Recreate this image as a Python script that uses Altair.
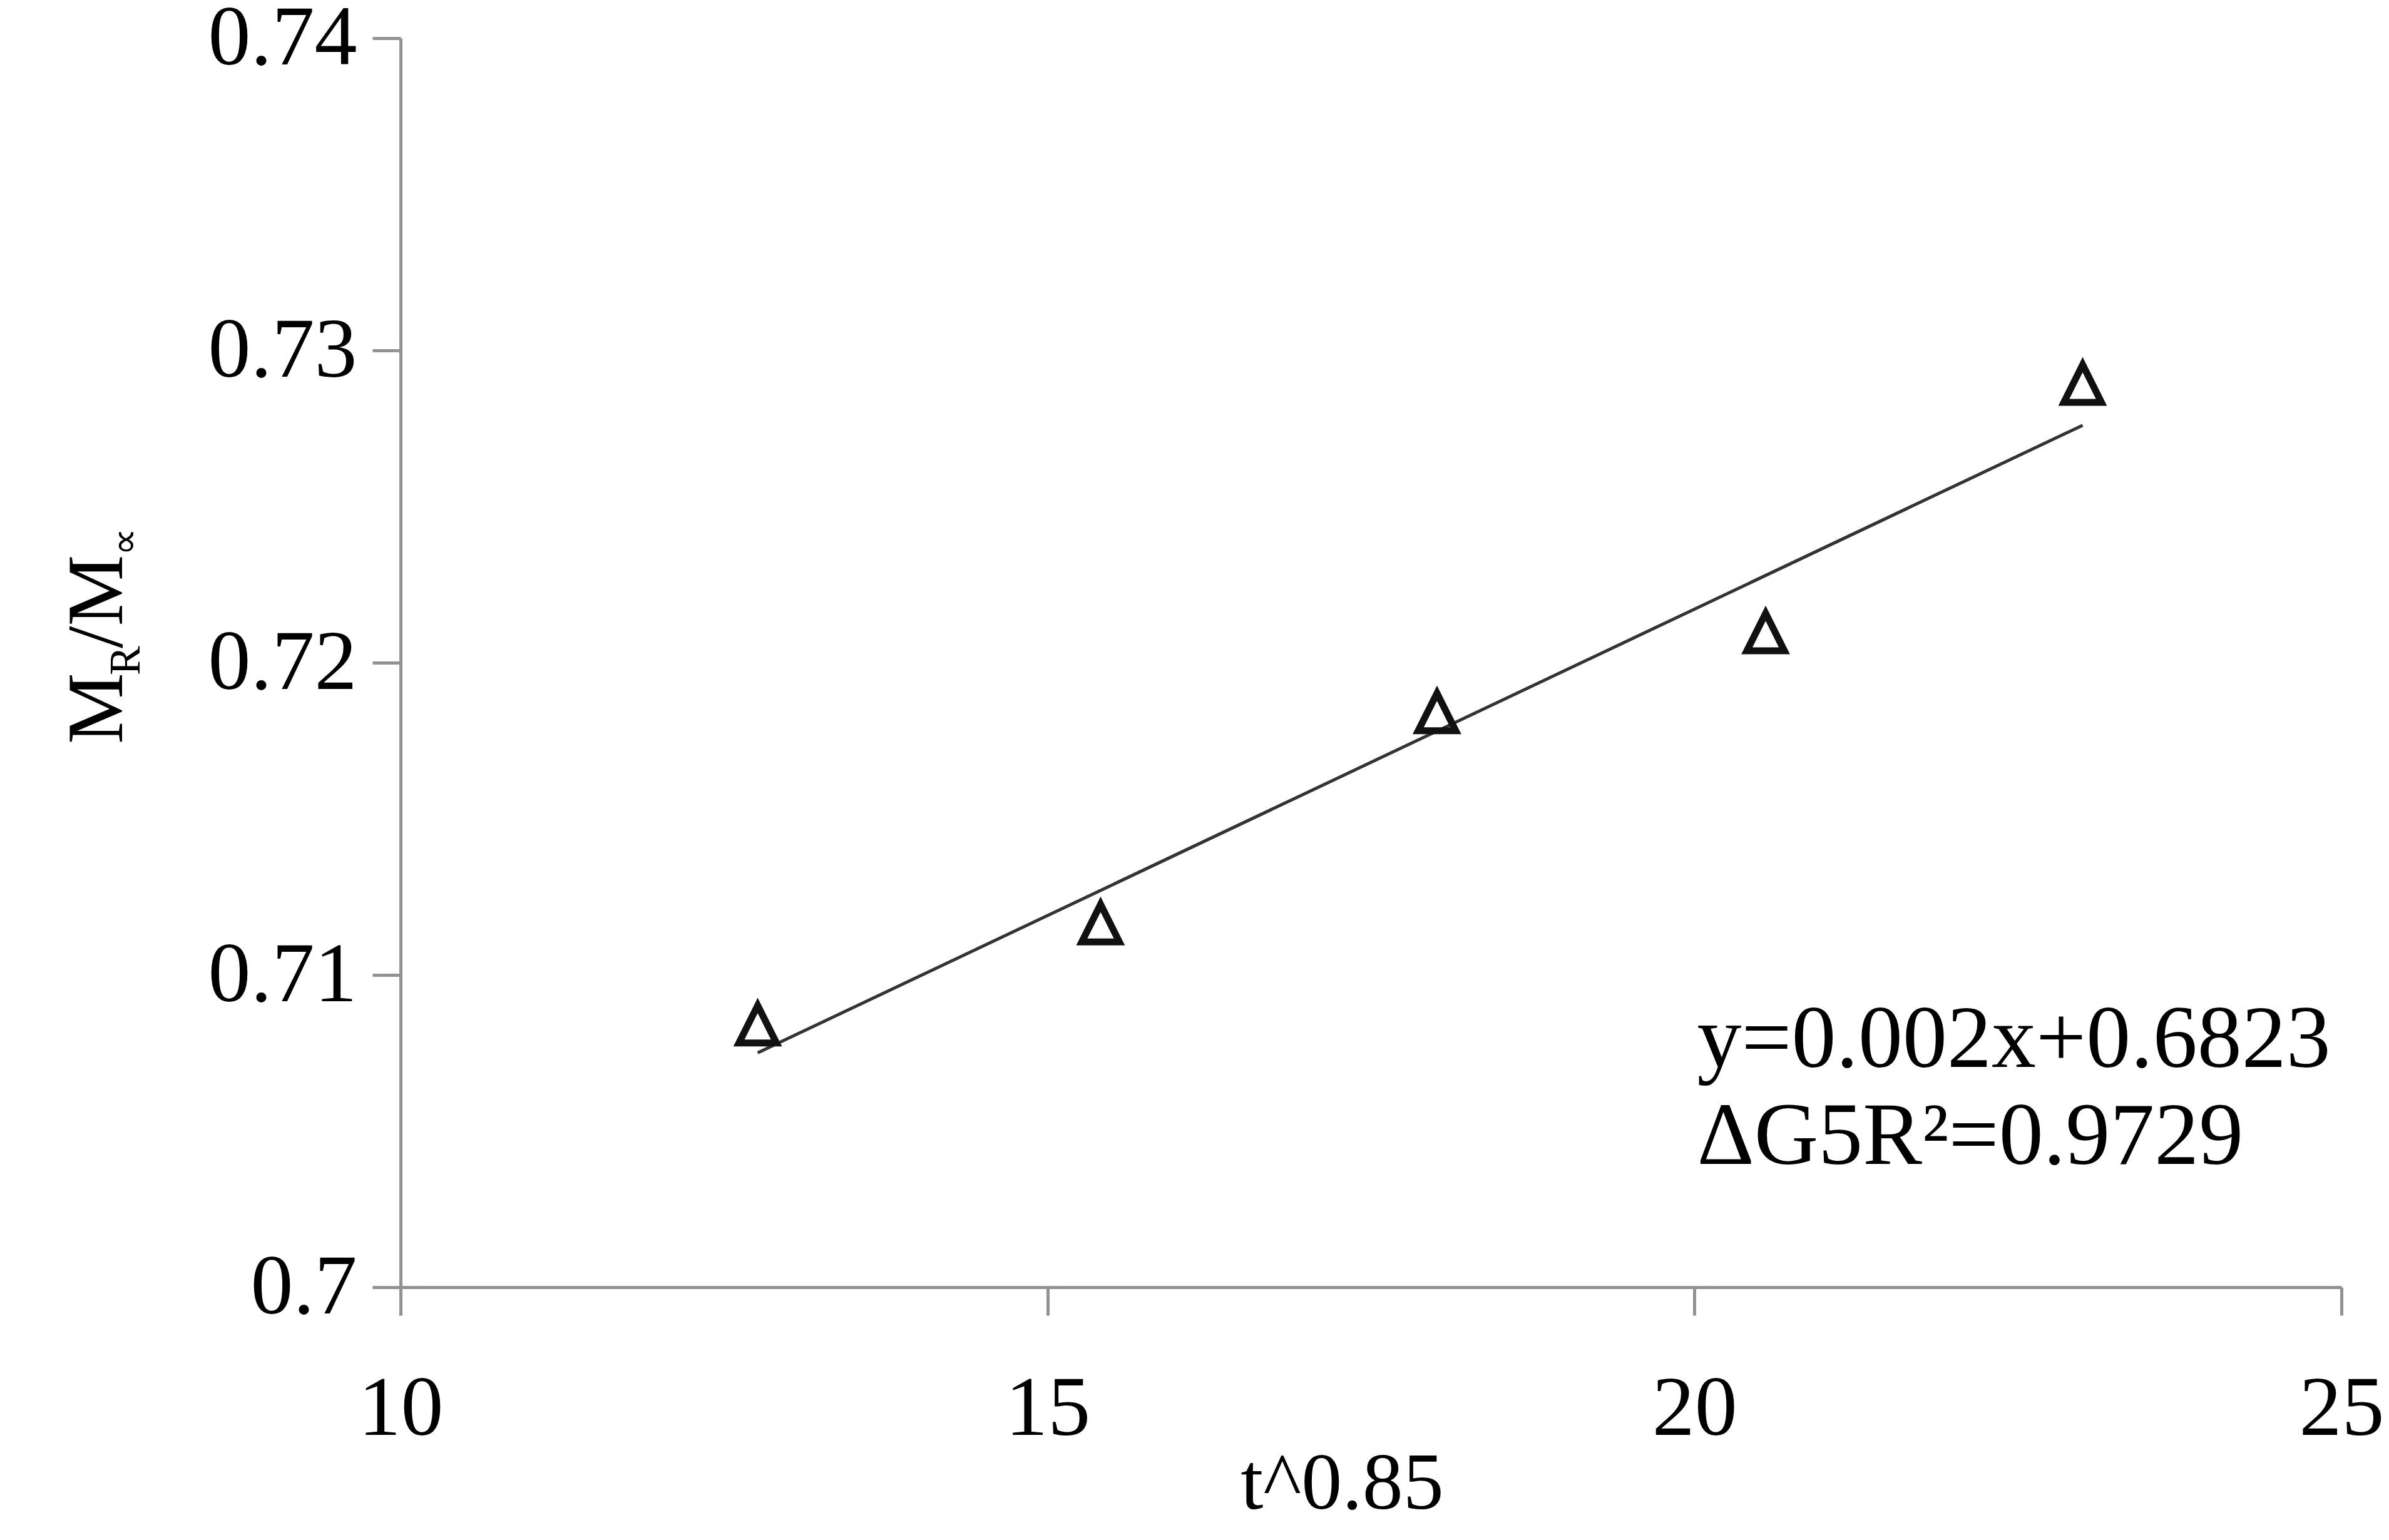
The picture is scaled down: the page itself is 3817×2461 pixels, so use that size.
import altair as alt
import pandas as pd

# ---- data ----
x_vals = [12.76, 15.41, 18.01, 20.55, 23.00]
y_vals = [0.70842, 0.71166, 0.71842, 0.72098, 0.72894]
x_ticks = [10, 15, 20, 25]
y_ticks = [0.70, 0.71, 0.72, 0.73, 0.74]
ann_text = ["y=0.002x+0.6823", "ΔG5R²=0.9729"]
ann_x = [20.02, 20.02]
ann_y = [0.70705, 0.70395]
x_title = "t^0.85"
y_title_parts = ["M", "R", "/M", "∝"]

FONT = "Liberation Serif"
AXIS_COLOR = "#8f9296"
W, H = 3101, 1996

df = pd.DataFrame({"x": x_vals, "y": y_vals})
ann_df = pd.DataFrame({"x": ann_x, "y": ann_y, "t": ann_text})

xs = alt.Scale(domain=[10, 25], nice=False, zero=False)
ys = alt.Scale(domain=[0.70, 0.74], nice=False, zero=False)

x_axis = alt.Axis(
    values=x_ticks, format="d", title=x_title,
    titleFont=FONT, titleFontSize=130, titleFontWeight="normal", titleColor="black",
    titleX=1504, titleY=353, titleAlign="center", titleBaseline="alphabetic",
    labelPadding=83, labelFlush=False, labelOverlap=False, labelBound=False,
    labelLimit=1000,
)
y_axis = alt.Axis(
    values=y_ticks, format=".2~f", title="",
    labelPadding=25, labelFlush=False, labelOverlap=False, labelBound=False,
    labelBaseline="middle", labelLimit=1000,
)

line = alt.Chart(df).transform_regression("x", "y").mark_line(
    color="#333333", strokeWidth=5
).encode(
    x=alt.X("x:Q", scale=xs, axis=x_axis),
    y=alt.Y("y:Q", scale=ys, axis=y_axis),
)

pts = alt.Chart(df).mark_point(
    shape="M0,-1L-1,1L1,1Z", size=3600, filled=False,
    stroke="#111111", strokeWidth=11, opacity=1,
).encode(
    x=alt.X("x:Q", scale=xs),
    y=alt.Y("y:Q", scale=ys),
)

ann = alt.Chart(ann_df).mark_text(
    font=FONT, fontSize=142, align="left", baseline="alphabetic", color="black"
).encode(
    x=alt.X("x:Q", scale=xs),
    y=alt.Y("y:Q", scale=ys),
    text="t:N",
)

# y-axis title built from pieces (subscripts)
yt_px = [-445, -417, -445, -420]
yt_py = [1128, 1018, 975, 827]
yt_size = [128, 70, 128, 62]
ytitle_layers = []
for t, px, py, fs in zip(y_title_parts, yt_px, yt_py, yt_size):
    ytitle_layers.append(
        alt.Chart(pd.DataFrame({"t": [t]})).mark_text(
            font=FONT, fontSize=fs, angle=270, align="left",
            baseline="alphabetic", color="black",
        ).encode(x=alt.value(px), y=alt.value(py), text="t:N")
    )

chart = alt.layer(line, pts, ann, *ytitle_layers).properties(
    width=W, height=H,
    autosize=alt.AutoSizeParams(type="none"),
    padding={"left": 632, "top": 53, "right": 66, "bottom": 390},
    background="white",
).configure_axis(
    grid=False,
    domainColor=AXIS_COLOR, domainWidth=5,
    tickColor=AXIS_COLOR, tickWidth=5, tickSize=45,
    labelFont=FONT, labelFontSize=136, labelColor="black",
).configure_view(strokeWidth=0)

chart.save("out.html", embed_options={"renderer": "svg", "actions": False})
